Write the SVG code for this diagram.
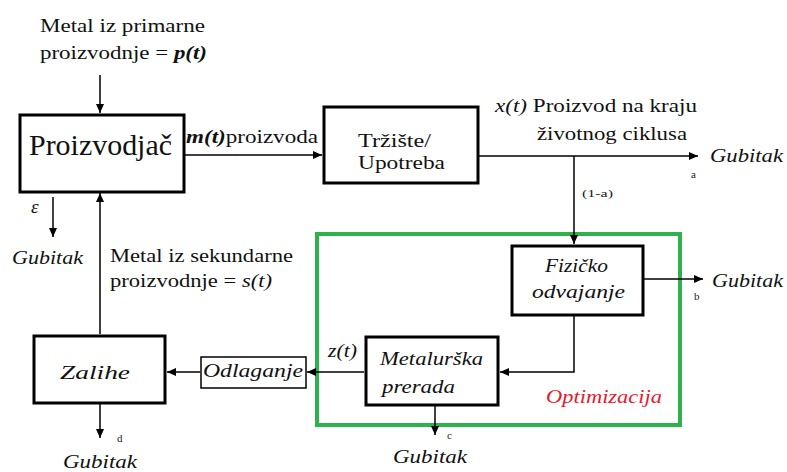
<svg xmlns="http://www.w3.org/2000/svg" width="787" height="472" viewBox="0 0 787 472" font-family="Liberation Serif, serif">
<style>
.box{fill:#fff;stroke:#000;stroke-width:3}
.thin{fill:#fff;stroke:#000;stroke-width:1.5}
.t{font-size:19px;fill:#111}
.i{font-style:italic}
.s{font-size:11px;fill:#222}
.c{fill:none;stroke:#000;stroke-width:1.5}
</style>
<defs>
<marker id="ah" markerUnits="userSpaceOnUse" markerWidth="9" markerHeight="8" refX="9" refY="4" orient="auto">
<path d="M0,0 L9,4 L0,8 z" fill="#000"/>
</marker>
</defs>
<rect width="787" height="472" fill="#fff"/>
<g id="optimizacija">
<rect x="317" y="234" width="363" height="191" fill="none" stroke="#2db34a" stroke-width="4"/>
<text class="t i" x="546" y="403" style="fill:#e8192c" textLength="116" lengthAdjust="spacingAndGlyphs">Optimizacija</text>
</g>
<g id="connectors">
<path class="c" d="M100,75 L100,113" marker-end="url(#ah)"/>
<path class="c" d="M185,155 L322,155" marker-end="url(#ah)"/>
<path class="c" d="M479,156 L698,156" marker-end="url(#ah)"/>
<path class="c" d="M574,156 L574,244" marker-end="url(#ah)"/>
<path class="c" d="M644,279 L703,279" marker-end="url(#ah)"/>
<path class="c" d="M574,316 L574,372 L500,372" marker-end="url(#ah)"/>
<path class="c" d="M364,372 L307,372" marker-end="url(#ah)"/>
<path class="c" d="M200,372 L167,372" marker-end="url(#ah)"/>
<path class="c" d="M100,334 L100,193" marker-end="url(#ah)"/>
<path class="c" d="M53,197 L53,237" marker-end="url(#ah)"/>
<path class="c" d="M100,404 L100,438" marker-end="url(#ah)"/>
<path class="c" d="M435,406 L435,435" marker-end="url(#ah)"/>
</g>
<g id="labels">
<text class="t" x="40" y="32" textLength="165" lengthAdjust="spacingAndGlyphs">Metal iz primarne</text>
<text class="t" x="40" y="59" textLength="167" lengthAdjust="spacingAndGlyphs">proizvodnje = <tspan class="i" font-weight="bold">p(t)</tspan></text>
<text class="t" x="186" y="143" textLength="132" lengthAdjust="spacingAndGlyphs"><tspan class="i" font-weight="bold">m(t)</tspan>proizvoda</text>
<text class="t" x="495" y="112" textLength="202" lengthAdjust="spacingAndGlyphs"><tspan class="i">x(t)</tspan> Proizvod na kraju</text>
<text class="t" x="537" y="140" textLength="150" lengthAdjust="spacingAndGlyphs">životnog ciklusa</text>
<text class="t i" x="710" y="162" textLength="73" lengthAdjust="spacingAndGlyphs">Gubitak</text>
<text class="s" x="691" y="178">a</text>
<text class="s" x="582" y="197" textLength="31" lengthAdjust="spacingAndGlyphs">(1-a)</text>
<text class="t i" x="712" y="287" textLength="71" lengthAdjust="spacingAndGlyphs">Gubitak</text>
<text class="s" x="694" y="300">b</text>
<text class="t i" x="328" y="357" textLength="29" lengthAdjust="spacingAndGlyphs">z(t)</text>
<text class="s" x="447" y="439">c</text>
<text class="t i" x="393" y="463" textLength="74" lengthAdjust="spacingAndGlyphs">Gubitak</text>
<text class="t i" x="31" y="213" font-size="16">ε</text>
<text class="t i" x="12" y="264" textLength="71" lengthAdjust="spacingAndGlyphs">Gubitak</text>
<text class="t" x="110" y="262" textLength="183" lengthAdjust="spacingAndGlyphs">Metal iz sekundarne</text>
<text class="t" x="110" y="287" textLength="162" lengthAdjust="spacingAndGlyphs">proizvodnje = <tspan class="i">s(t)</tspan></text>
<text class="s" x="117" y="442">d</text>
<text class="t i" x="63" y="468" textLength="74" lengthAdjust="spacingAndGlyphs">Gubitak</text>
</g>
<g id="proizvodjac">
<rect class="box" x="20" y="115" width="164" height="77"/>
<text x="29" y="155" font-size="30" fill="#111" textLength="143" lengthAdjust="spacingAndGlyphs">Proizvodjač</text>
</g>
<g id="trziste">
<rect class="box" x="324" y="107" width="154" height="76"/>
<text class="t" x="358" y="147" textLength="73" lengthAdjust="spacingAndGlyphs">Tržište/</text>
<text class="t" x="358" y="169" textLength="87" lengthAdjust="spacingAndGlyphs">Upotreba</text>
</g>
<g id="fizicko">
<rect class="box" x="512" y="246" width="131" height="69"/>
<text class="t i" x="545" y="272" textLength="63" lengthAdjust="spacingAndGlyphs">Fizičko</text>
<text class="t i" x="532" y="298" textLength="93" lengthAdjust="spacingAndGlyphs">odvajanje</text>
</g>
<g id="metalurska">
<rect class="box" x="366" y="337" width="132" height="68"/>
<text class="t i" x="380" y="365" textLength="103" lengthAdjust="spacingAndGlyphs">Metalurška</text>
<text class="t i" x="382" y="393" textLength="73" lengthAdjust="spacingAndGlyphs">prerada</text>
</g>
<g id="odlaganje">
<rect class="thin" x="201" y="357" width="105" height="31"/>
<text class="t i" x="203" y="377" textLength="100" lengthAdjust="spacingAndGlyphs">Odlaganje</text>
</g>
<g id="zalihe">
<rect class="box" x="34" y="336" width="131" height="67"/>
<text class="t i" x="60" y="379" font-size="24" textLength="70" lengthAdjust="spacingAndGlyphs">Zalihe</text>
</g>
</svg>
